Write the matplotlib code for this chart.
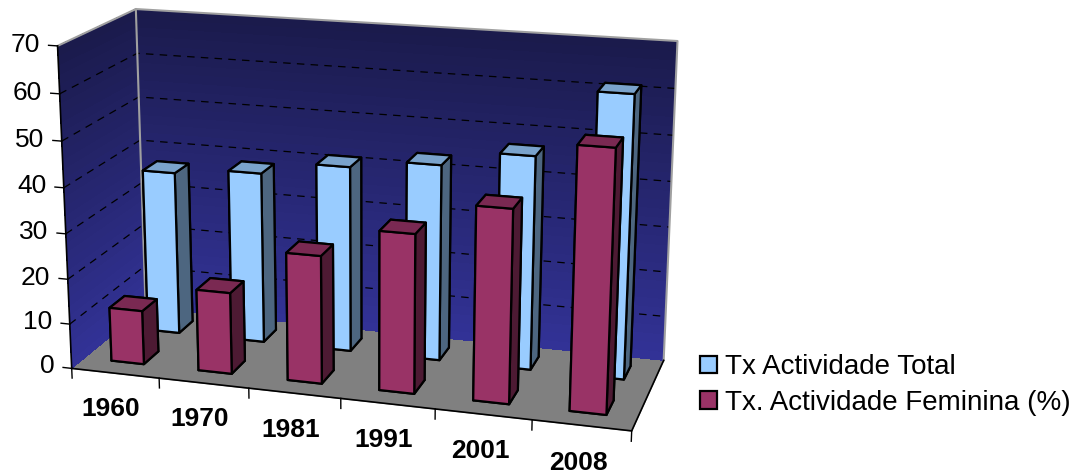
import numpy as np
import matplotlib
matplotlib.use("Agg")
import matplotlib.pyplot as plt
from matplotlib.patches import Patch
from matplotlib.colors import to_rgba
from mpl_toolkits.mplot3d import proj3d

# Data
years = ["1960", "1970", "1981", "1991", "2001", "2008"]
total = [37, 38.5, 41.5, 43.5, 47, 61.5]
feminina = [12, 18, 28, 34.5, 41.5, 55.5]
z_ticks = [0, 10, 20, 30, 40, 50, 60, 70]
series_labels = ["Tx Actividade Total", "Tx. Actividade Feminina (%)"]

# Colours (front, top, side) for each series
TOTAL_COLORS = ("#99ccff", "#7aa3cc", "#4d6680")
FEM_COLORS = ("#993366", "#7a2952", "#4d1a33")
WALL_TOP = "#1a1a4a"
WALL_BOTTOM = "#323296"
FLOOR = "#808080"


def InitializeMatplotLib():
    matplotlib.rc("font", family=["Liberation Sans", "DejaVu Sans"], size=18)
    matplotlib.rc("axes3d", automargin=False)


def FaceColors(colors, n):
    front, top, side = colors
    # bar3d face order: -z, +z, -y, +y, -x, +x
    one = [front, top, front, front, side, side]
    return one * n


def DrawWalls(ax, xmin, xmax, ymax, zmax):
    zs = np.linspace(0, zmax, 36)
    t = zs / zmax
    c0 = np.array(to_rgba(WALL_BOTTOM))
    c1 = np.array(to_rgba(WALL_TOP))
    cols = c0[None, :] * (1 - t[:, None]) + c1[None, :] * t[:, None]

    # back wall (y = ymax)
    X, Z = np.meshgrid([xmin, xmax], zs)
    Y = np.full_like(X, ymax)
    fc = np.repeat(cols[:, None, :], 2, axis=1)
    ax.plot_surface(X, Y, Z, facecolors=fc, shade=False, linewidth=0,
                    antialiased=False, rstride=1, cstride=1, zorder=1)

    # side wall (x = xmin)
    Y2, Z2 = np.meshgrid([0, ymax], zs)
    X2 = np.full_like(Y2, xmin)
    ax.plot_surface(X2, Y2, Z2, facecolors=fc, shade=False, linewidth=0,
                    antialiased=False, rstride=1, cstride=1, zorder=1)

    # dashed gridlines on both walls
    for z in z_ticks[1:-1]:
        ax.plot([xmin, xmin, xmax], [0, ymax, ymax], [z, z, z],
                color="black", linestyle=(0, (6, 5)), linewidth=0.9, zorder=2)

    # wall and floor edges
    ax.plot([xmin, xmin, xmax, xmax], [0, ymax, ymax, ymax], [zmax, zmax, zmax, 0],
            color="#a0a0a0", linewidth=1.5, zorder=2)
    ax.plot([xmin, xmin], [ymax, ymax], [0, zmax], color="#a0a0a0", linewidth=1.5, zorder=2)
    ax.plot([xmin, xmin], [0, 0], [0, zmax], color="black", linewidth=1.2, zorder=2)
    ax.plot([xmin, xmax, xmax], [0, 0, ymax], [0, 0, 0], color="black", linewidth=1.2, zorder=2)

    # category boundary ticks on the front edge
    for b in np.arange(xmin, xmax + 0.01, 1.0):
        ax.plot([b, b], [0, 0], [0, -2.2], color="black", linewidth=1.0, zorder=2)

    # value axis ticks on the front-left edge
    for z in z_ticks:
        ax.plot([xmin, xmin - 0.1], [0, 0], [z, z], color="black", linewidth=1.0, zorder=2)


def PlotChart():
    n = len(years)
    xs = np.arange(n)
    bar_w = 0.375
    bar_d = 0.4
    xmin, xmax = -0.5, n - 0.5
    ymax = 2.0
    zmax = 70

    fig = plt.figure(figsize=(10.9, 4.74), dpi=100)
    ax = fig.add_axes([-0.0202, -0.2637, 0.699, 1.608], projection="3d",
                      computed_zorder=False)
    ax.set_proj_type("persp", focal_length=0.5)
    ax.view_init(elev=16.5, azim=-73.4)
    ax.set_box_aspect((1, 0.34, 0.583), zoom=0.882)
    ax.set_xlim(xmin, xmax)
    ax.set_ylim(0, ymax)
    ax.set_zlim(0, zmax)

    for axis in (ax.xaxis, ax.yaxis, ax.zaxis):
        axis.set_pane_color((1, 1, 1, 0))
        axis.pane.set_edgecolor((1, 1, 1, 0))
        axis.line.set_color((1, 1, 1, 0))
        axis.label.set_visible(False)
    ax.zaxis.set_pane_color(FLOOR)
    ax.grid(False)

    DrawWalls(ax, xmin, xmax, ymax, zmax)

    # bars: front row = feminina, back row = total
    bx = np.concatenate([xs - bar_w / 2, xs - bar_w / 2])
    by = np.concatenate([np.full(n, 0.33), np.full(n, 1.33)])
    bz = np.zeros(2 * n)
    heights = np.concatenate([feminina, total])
    colors = FaceColors(FEM_COLORS, n) + FaceColors(TOTAL_COLORS, n)
    ax.bar3d(bx, by, bz, bar_w, bar_d, heights, color=colors, shade=False,
             edgecolor="black", linewidth=1.6, zorder=3)

    ax.set_xticks(xs)
    ax.set_xticklabels(years, fontweight="bold", fontsize=19)
    ax.set_yticks([])
    ax.set_zticks([])
    ax.xaxis._axinfo["tick"]["inward_factor"] = 0
    ax.xaxis._axinfo["tick"]["outward_factor"] = 0
    ax.tick_params(axis="x", pad=10)

    # value labels placed in 2D at the projected front-left edge
    M = ax.get_proj()
    for z in z_ticks:
        px, py, _ = proj3d.proj_transform(xmin - 0.2, 0, z, M)
        ax.text2D(px, py, str(z), transform=ax.transData, ha="right",
                  va="center", fontsize=19)

    handles = [Patch(facecolor=TOTAL_COLORS[0], edgecolor="black", linewidth=1.6),
               Patch(facecolor=FEM_COLORS[0], edgecolor="black", linewidth=1.6)]
    fig.legend(handles, series_labels, loc="upper left",
               bbox_to_anchor=(689 / 1090, 1 - 343 / 474), frameon=False,
               fontsize=20, handlelength=0.6, handleheight=0.6,
               handletextpad=0.3, labelspacing=0.35, borderaxespad=0)

    fig.savefig("out.png", dpi=100)


if __name__ == "__main__":
    InitializeMatplotLib()
    PlotChart()
